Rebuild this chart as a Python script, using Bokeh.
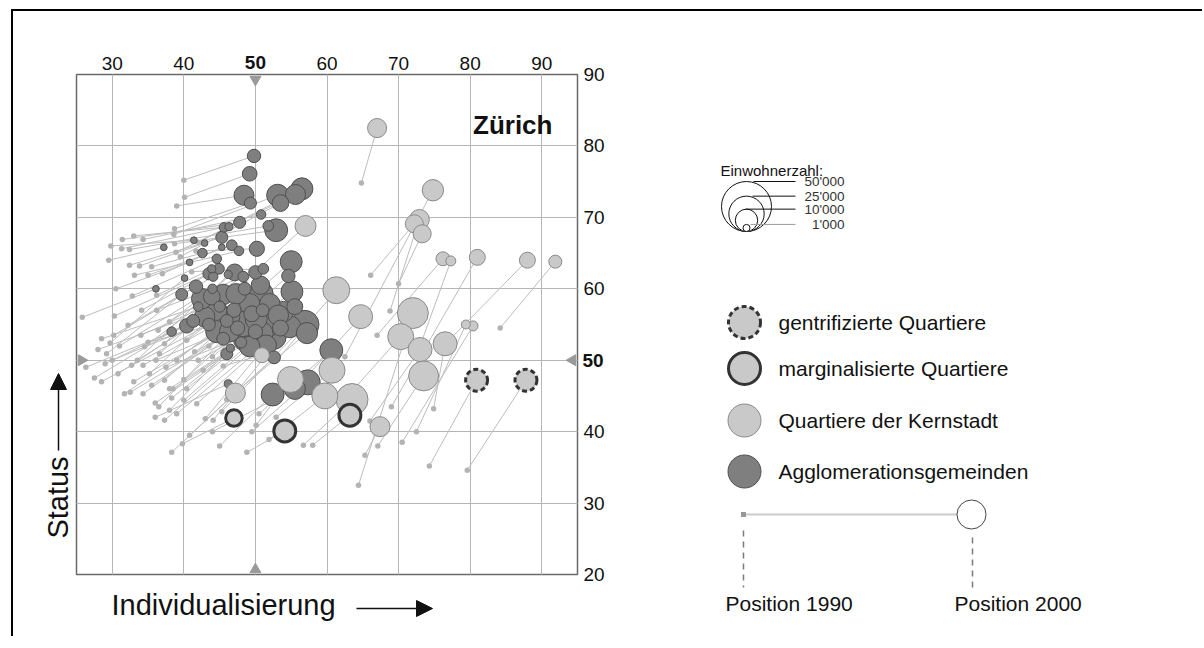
import math
import numpy as np
from bokeh.plotting import figure
from bokeh.models import Range1d, LinearAxis, FixedTicker, Grid, Label, Arrow, NormalHead
from bokeh.layouts import row, column
from bokeh.embed import file_html
from bokeh.resources import INLINE
from bokeh.core.properties import value

FONT = "Liberation Sans"

# ---------------- data ----------------
x_ticks = [30, 40, 50, 60, 70, 80, 90]
y_ticks = [20, 30, 40, 50, 60, 70, 80, 90]

# Agglomerationsgemeinden: position 2000, position 1990, population 2000 (thousands)
agglo_x00 = [49.8, 49.2, 48.4, 49.3, 53.1, 53.5, 55.6, 56.5, 50.8, 47.8,
             52.9, 51.8, 45.6, 46.3, 45.3, 42.9, 41.4, 37.2, 42.6, 46.7,
             47.7, 45.3, 50.2, 51.1, 44.6, 43.9, 44.9, 40.8, 47.1, 48.3,
             50.0, 50.7, 55.0, 54.6, 55.1, 43.5, 44.1, 46.2, 40.1, 36.1,
             41.7, 39.7, 42.5, 43.9, 45.5, 47.3, 49.2, 50.8, 52.0, 53.9,
             42.9, 44.6, 46.4, 48.3, 50.1, 52.0, 44.6, 46.4, 48.7, 50.8,
             52.5, 49.2, 51.5, 54.8, 56.9, 53.2, 40.4, 41.3, 38.3, 52.6,
             46.0, 60.6, 52.4, 57.3, 55.5, 57.2, 46.2, 46.5, 45.0, 47.0,
             49.5, 51.0, 43.5, 47.5, 45.5, 53.5, 44.0, 48.5, 42.0, 50.0,
             55.5, 48.0, 46.0]
agglo_y00 = [78.6, 76.1, 73.1, 72.0, 73.1, 72.0, 73.2, 74.0, 70.4, 69.3,
             68.2, 68.8, 68.6, 68.7, 67.2, 66.4, 66.8, 65.8, 65.0, 66.1,
             65.3, 65.8, 65.6, 62.8, 64.2, 62.8, 62.8, 63.7, 62.3, 61.7,
             62.3, 60.5, 63.8, 61.8, 59.6, 62.1, 61.7, 62.0, 61.5, 60.0,
             60.3, 59.2, 58.6, 58.9, 59.2, 59.3, 57.9, 59.3, 57.9, 56.8,
             56.1, 57.0, 56.1, 55.1, 55.8, 55.1, 54.0, 54.0, 53.0, 53.7,
             53.3, 51.9, 52.1, 54.7, 55.0, 56.3, 54.8, 55.5, 54.0, 50.4,
             50.9, 51.4, 45.2, 46.9, 46.0, 53.8, 46.7, 51.7, 57.5, 57.0,
             56.5, 57.0, 55.0, 54.5, 53.0, 54.5, 60.0, 60.0, 57.5, 54.0,
             57.5, 52.5, 55.5]
agglo_x90 = [40.0, 40.1, 39.0, 38.7, 38.6, 39.5, 38.9, 42.0, 34.3, 31.4,
             38.7, 32.4, 31.3, 33.0, 32.4, 33.8, 29.8, 29.5, 35.5, 35.0,
             33.1, 37.0, 41.7, 41.1, 32.8, 36.2, 34.1, 30.5, 36.4, 38.0,
             36.2, 40.4, 45.0, 43.5, 44.0, 30.3, 32.2, 37.3, 29.7, 25.8,
             30.2, 29.2, 32.7, 34.5, 36.6, 35.2, 37.3, 39.0, 40.0, 42.7,
             30.8, 33.5, 34.3, 36.1, 41.5, 38.0, 31.7, 34.3, 38.3, 40.0,
             41.8, 37.3, 43.0, 44.1, 45.3, 40.4, 26.3, 29.0, 27.5, 40.8,
             36.0, 50.5, 45.0, 49.5, 44.0, 46.0, 36.0, 38.0, 28.0, 30.0,
             33.0, 35.5, 28.5, 32.5, 36.5, 39.0, 31.0, 34.0, 28.5, 37.5,
             42.0, 38.5, 35.0]
agglo_y90 = [75.2, 72.8, 71.6, 68.4, 67.6, 64.5, 65.1, 66.5, 66.9, 66.9,
             66.3, 65.5, 65.6, 67.4, 63.3, 63.2, 66.0, 64.0, 63.1, 61.9,
             61.9, 62.1, 65.3, 62.4, 59.0, 59.1, 57.0, 60.0, 54.2, 55.4,
             57.0, 52.8, 55.0, 52.0, 50.5, 56.2, 54.9, 52.3, 52.4, 56.0,
             53.5, 50.9, 49.3, 51.9, 50.9, 48.1, 47.2, 50.0, 47.3, 48.6,
             48.1, 50.0, 49.3, 50.0, 51.2, 46.0, 45.3, 45.3, 44.7, 44.4,
             43.9, 41.6, 41.8, 41.6, 42.8, 46.0, 49.0, 49.5, 47.5, 39.5,
             44.0, 42.5, 38.0, 40.0, 40.0, 44.5, 42.0, 43.0, 51.5, 50.0,
             47.0, 46.5, 47.0, 45.5, 43.5, 42.5, 52.0, 53.5, 53.0, 49.0,
             50.0, 46.0, 52.5]
agglo_pop = [3.6, 4.3, 8.0, 2.9, 9.6, 5.6, 8.0, 9.6, 1.8, 2.9,
             10.5, 2.3, 1.8, 1.3, 2.9, 0.9, 0.9, 0.9, 1.8, 2.3,
             1.8, 0.9, 4.6, 2.3, 1.8, 1.3, 2.3, 0.9, 5.6, 2.3,
             3.6, 6.8, 9.6, 3.6, 9.6, 2.9, 1.8, 1.3, 0.9, 0.9,
             3.6, 2.9, 8.4, 5.6, 8.4, 8.4, 8.4, 11.5, 8.4, 8.4,
             8.4, 8.4, 8.4, 13.2, 9.8, 11.5, 9.8, 8.4, 13.2, 11.5,
             13.2, 8.4, 8.4, 9.8, 16.0, 8.4, 4.1, 3.3, 1.8, 3.3,
             2.9, 10.5, 10.5, 12.5, 9.0, 9.0, 1.3, 1.3, 2.5, 4.1,
             5.1, 3.3, 3.3, 4.1, 3.3, 5.1, 1.8, 3.3, 1.8, 4.1,
             5.1, 2.5, 3.3]

# Quartiere der Kernstadt
kern_x00 = [67.0, 74.8, 72.9, 72.2, 73.3, 76.2, 77.3, 81.0, 88.0, 91.9,
            61.3, 64.7, 72.0, 57.0, 79.4, 80.4, 70.3, 73.0, 76.5, 73.5,
            67.4, 60.7, 59.7, 63.5, 54.9, 50.9, 47.2]
kern_y00 = [82.5, 73.8, 69.7, 69.1, 67.7, 64.2, 63.9, 64.4, 64.0, 63.8,
            59.8, 56.1, 56.6, 68.8, 55.0, 54.8, 53.3, 51.5, 52.3, 47.8,
            40.7, 48.6, 45.0, 44.5, 47.3, 50.7, 45.4]
kern_x90 = [64.8, 62.5, 68.8, 66.1, 70.0, 67.0, 73.0, 69.0, 75.8, 84.2,
            53.0, 57.0, 64.4, 48.5, 72.5, 70.5, 62.0, 66.0, 74.9, 67.1,
            65.3, 52.9, 51.9, 56.7, 50.1, 45.5, 38.3]
kern_y90 = [74.8, 50.5, 56.9, 61.9, 60.7, 53.5, 52.0, 43.5, 51.5, 54.5,
            50.0, 47.5, 32.5, 61.0, 40.0, 38.5, 44.0, 41.5, 43.2, 38.0,
            36.7, 42.0, 38.9, 38.1, 40.9, 49.2, 37.1]
kern_pop = [7.3, 9.1, 8.0, 6.5, 6.5, 3.9, 2.0, 5.1, 5.1, 3.4,
            14.5, 11.5, 19.1, 8.8, 1.6, 2.0, 13.5, 11.5, 11.5, 17.9,
            8.0, 13.5, 13.5, 20.4, 13.5, 4.5, 8.0]

# marginalisierte Quartiere
marg_x00 = [47.0, 54.1, 63.2]
marg_y00 = [41.9, 40.1, 42.3]
marg_x90 = [39.8, 48.8, 58.0]
marg_y90 = [38.3, 37.1, 38.1]
marg_pop = [5.5, 9.6, 9.6]

# gentrifizierte Quartiere
gent_x00 = [80.9, 87.8]
gent_y00 = [47.2, 47.2]
gent_x90 = [74.3, 79.6]
gent_y90 = [35.2, 34.6]
gent_pop = [9.6, 9.6]

legend_pops = [50000, 25000, 10000, 1000]
legend_pop_labels = ["50'000", "25'000", "10'000", "1'000"]
legend_items = ["gentrifizierte Quartiere", "marginalisierte Quartiere",
                "Quartiere der Kernstadt", "Agglomerationsgemeinden"]


def diam_k(pop_k):
    return 2 * 0.1118 * np.sqrt(np.asarray(pop_k, dtype=float) * 1000.0)


def diam(pop):
    return 2 * 0.1118 * np.sqrt(np.asarray(pop, dtype=float))


# colours
C_AGG = "#7f7f7f"
C_AGG_LINE = "#4f4f4f"
C_KERN = "#c9c9c9"
C_KERN_LINE = "#8a8a8a"
C_DOT = "#b3b3b3"
C_SEG = "#bdbdbd"
C_GRID = "#b6b6b6"
C_TXT = "#111111"


def blank(width, height, xr, yr):
    f = figure(width=width, height=height, x_range=Range1d(*xr), y_range=Range1d(*yr),
               output_backend="svg", toolbar_location=None,
               x_axis_location=None, y_axis_location=None, min_border=0,
               outline_line_color=None, background_fill_color="white",
               border_fill_color="white")
    f.grid.visible = False
    f.frame_align = False
    return f


# ---------------- main chart ----------------
p = figure(width=565, height=577, x_range=Range1d(25, 95), y_range=Range1d(20, 90),
           output_backend="svg", toolbar_location=None,
           x_axis_location=None, y_axis_location=None,
           min_border_left=1, min_border_right=63, min_border_top=63, min_border_bottom=14,
           outline_line_color="#6a6a6a", outline_line_width=1.5,
           background_fill_color="white", border_fill_color="white")
p.frame_align = False

xt = FixedTicker(ticks=x_ticks)
yt = FixedTicker(ticks=y_ticks)
p.add_layout(Grid(dimension=0, ticker=xt, grid_line_color=C_GRID, grid_line_width=1))
p.add_layout(Grid(dimension=1, ticker=yt, grid_line_color=C_GRID, grid_line_width=1))

common_axis = dict(axis_line_color=None, major_tick_line_color=None, minor_tick_line_color=None,
                   major_tick_out=0, major_tick_in=0,
                   major_label_text_font=FONT, major_label_text_font_size="19px",
                   major_label_text_color=C_TXT)
xax = LinearAxis(ticker=xt, major_label_overrides={50: ""}, major_label_standoff=5, **common_axis)
p.add_layout(xax, "above")
yax = LinearAxis(ticker=yt, major_label_overrides={50: ""}, major_label_standoff=6, **common_axis)
p.add_layout(yax, "right")
# bold "50" on an outer axis pulled back onto the same line
xax_b = LinearAxis(ticker=FixedTicker(ticks=[50]), major_label_standoff=-15,
                   major_label_text_font_style="bold", **common_axis)
p.add_layout(xax_b, "above")
yax_b = LinearAxis(ticker=FixedTicker(ticks=[50]), major_label_standoff=-25,
                   major_label_text_font_style="bold", **common_axis)
p.add_layout(yax_b, "right")

# markers at 50 on the frame
tri = dict(size=11, fill_color="#9a9a9a", line_color="#9a9a9a")
p.scatter(x=[50], y=[89.3], marker="inverted_triangle", **tri)
p.scatter(x=[50], y=[20.7], marker="triangle", **tri)
p.scatter(x=[25.7], y=[50], marker="triangle", angle=-math.pi / 2, **tri)
p.scatter(x=[94.3], y=[50], marker="triangle", angle=math.pi / 2, **tri)

# connecting lines 1990 -> 2000
all_x90 = agglo_x90 + kern_x90 + marg_x90 + gent_x90
all_y90 = agglo_y90 + kern_y90 + marg_y90 + gent_y90
all_x00 = agglo_x00 + kern_x00 + marg_x00 + gent_x00
all_y00 = agglo_y00 + kern_y00 + marg_y00 + gent_y00
p.segment(x0=all_x90, y0=all_y90, x1=all_x00, y1=all_y00, line_color=C_SEG, line_width=1)
p.scatter(x=all_x90, y=all_y90, size=5.5, fill_color=C_DOT, line_color=None)


def sorted_by_size(xs, ys, pops):
    order = np.argsort(-np.asarray(pops))
    return ([xs[i] for i in order], [ys[i] for i in order], [pops[i] for i in order])


ax, ay, ap = sorted_by_size(agglo_x00, agglo_y00, agglo_pop)
p.scatter(x=ax, y=ay, size=diam_k(ap), fill_color=C_AGG, line_color=C_AGG_LINE, line_width=1)
kx, ky, kp = sorted_by_size(kern_x00, kern_y00, kern_pop)
p.scatter(x=kx, y=ky, size=diam_k(kp), fill_color=C_KERN, line_color=C_KERN_LINE, line_width=1)
p.scatter(x=marg_x00, y=marg_y00, size=diam_k(marg_pop), fill_color=C_KERN,
          line_color="#333333", line_width=3)
p.scatter(x=gent_x00, y=gent_y00, size=diam_k(gent_pop), fill_color=C_KERN,
          line_color="#333333", line_width=3, line_dash="5 3")

p.add_layout(Label(x=91.5, y=83.0, text="Zürich", text_align="right", text_baseline="alphabetic",
                   text_font=FONT, text_font_size="26px", text_font_style="bold",
                   text_color=C_TXT))

# ---------------- axis titles (page-pixel coordinates) ----------------
left = blank(62, 577, (13, 75), (588, 11))
left.text(x=[57], y=[497], text=["Status"], angle=math.pi / 2, text_align="center",
          text_baseline="middle", text_font=value(FONT), text_font_size="29px",
          text_color=C_TXT)
left.add_layout(Arrow(x_start=58, y_start=450, x_end=58, y_end=373, line_width=1.5,
                      line_color=C_TXT,
                      end=NormalHead(size=16, fill_color=C_TXT, line_color=C_TXT)))

bottom = blank(627, 48, (13, 640), (636, 588))
bottom.text(x=[111], y=[604], text=["Individualisierung"], text_align="left",
            text_baseline="middle", text_font=value(FONT), text_font_size="29px",
            text_color=C_TXT)
bottom.add_layout(Arrow(x_start=356, y_start=608, x_end=432, y_end=608, line_width=1.5,
                        line_color=C_TXT,
                        end=NormalHead(size=16, fill_color=C_TXT, line_color=C_TXT)))

# ---------------- legend panel (page-pixel coordinates) ----------------
q = blank(562, 625, (640, 1202), (636, 11))

q.text(x=[720], y=[170], text=["Einwohnerzahl:"], text_font=value(FONT),
       text_font_size="15px", text_baseline="middle", text_color=C_TXT)

ld = diam(legend_pops)
base_y = 231
cx = 746
cys = [base_y - d / 2 for d in ld]
q.scatter(x=[cx] * 4, y=cys, size=ld, fill_color="white", line_color=C_TXT, line_width=1)
tops = [base_y - d for d in ld]
q.segment(x0=[753, 752, 745, 750], y0=tops, x1=[795] * 4, y1=tops,
          line_color=[C_TXT, C_TXT, C_TXT, "#9a9a9a"], line_width=1)
q.text(x=[844] * 4, y=tops, text=legend_pop_labels, text_font=value(FONT),
       text_font_size="13.5px", text_align="right", text_baseline="middle", text_color="#333333")

ly = [322, 368, 420, 471]
q.scatter(x=[744], y=[ly[0]], size=32, fill_color=C_KERN, line_color="#333333", line_width=3,
          line_dash="5 3")
q.scatter(x=[744], y=[ly[1]], size=32, fill_color=C_KERN, line_color="#333333", line_width=3)
q.scatter(x=[744], y=[ly[2]], size=33, fill_color=C_KERN, line_color=C_KERN_LINE, line_width=1)
q.scatter(x=[744], y=[ly[3]], size=33, fill_color=C_AGG, line_color=C_AGG_LINE, line_width=1)
q.text(x=[778] * 4, y=ly, text=legend_items, text_font=value(FONT), text_font_size="21px",
       text_baseline="middle", text_color=C_TXT)

# position 1990 -> 2000 explanation
q.segment(x0=[743], y0=[514], x1=[971], y1=[514], line_color="#cccccc", line_width=2)
q.scatter(x=[743], y=[514], size=5, marker="square", fill_color="#999999", line_color=None)
q.scatter(x=[971], y=[514], size=29, fill_color="white", line_color="#444444", line_width=1)
q.segment(x0=[743, 972], y0=[530, 537], x1=[743, 972], y1=[587, 590],
          line_color="#7a7a7a", line_width=1.5, line_dash="6 5")
q.text(x=[725, 954], y=[603, 603], text=["Position 1990", "Position 2000"],
       text_font=value(FONT), text_font_size="21px", text_baseline="middle",
       text_color=C_TXT)

left_block = column(row(left, p), bottom)
layout = row(left_block, q, styles={"margin-left": "11px", "margin-top": "9px",
                                    "border-left": "2px solid #000",
                                    "border-top": "2px solid #000"})

open("out.html", "w").write(file_html(layout, INLINE))
